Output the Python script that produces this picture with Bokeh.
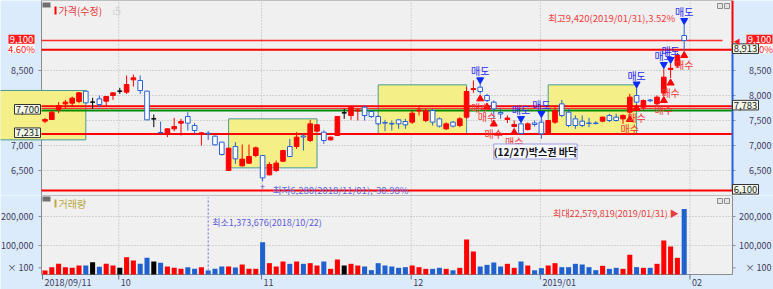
import numpy as np
from bokeh.plotting import figure
from bokeh.layouts import column
from bokeh.models import ColumnDataSource, Range1d, Label
from bokeh.core.properties import value
from bokeh.embed import file_html
from bokeh.resources import INLINE

FONT = "Noto Sans CJK KR"
RED = "#ff0000"
BLUE = "#2a62d4"
BLACK = "#000000"
BG = "#dcebfb"
PANEL = "#f0f0f0"
AXTXT = "#3c3c5c"
GRID = "#b4b4b4"

# ---------------- data ----------------
opens = [7487, 7520, 7713, 7833, 7847, 7880, 8087, 7867, 7933, 7887,
         8000, 8087, 8067, 8313, 8300, 8087, 7533, 7260, 7233, 7333,
         7447, 7580, 7400, 7240, 7247, 7187, 7067, 6500, 6980, 6593,
         6647, 6800, 6800, 6413, 6500, 6687, 6980, 6980, 7190, 7100,
         7287, 7267, 7113, 7200, 7653, 7600, 7690, 7767, 7680, 7580,
         7460, 7440, 7513, 7480, 7467, 7690, 7500, 7700, 7533, 7333,
         7467, 7400, 7567, 8120, 8167, 8000, 7867, 7660, 7520, 7380,
         7433, 7320, 7450, 7467, 7233, 7467, 7833, 7667, 7533, 7487,
         7450, 7450, 7487, 7600, 7567, 7533, 7667, 8000, 7767, 7910,
         7833, 8050, 8520, 8600, 9200]
highs = [7553, 7680, 7867, 7913, 7980, 8067, 8100, 7953, 8000, 7990,
         8060, 8153, 8400, 8420, 8400, 8093, 7620, 7480, 7340, 7553,
         7533, 7667, 7447, 7267, 7287, 7200, 7067, 6950, 7067, 7020,
         7020, 6980, 6810, 6667, 6700, 6913, 7133, 7267, 7233, 7513,
         7420, 7300, 7180, 7590, 7733, 7800, 7733, 7800, 7713, 7600,
         7513, 7500, 7533, 7533, 7700, 7767, 7733, 7733, 7560, 7460,
         7490, 7567, 8167, 8300, 8233, 8033, 7900, 7733, 7600, 7500,
         7460, 7460, 7500, 7560, 7510, 7767, 7913, 7733, 7600, 7600,
         7553, 7487, 7580, 7633, 7633, 7620, 8033, 8150, 7920, 7933,
         8000, 8540, 8640, 8850, 9420]
lows = [7447, 7510, 7647, 7733, 7767, 7847, 7840, 7733, 7767, 7767,
        7913, 8033, 8033, 8180, 8033, 7507, 7367, 7247, 7167, 7287,
        7200, 7300, 7233, 7000, 7113, 7000, 6800, 6490, 6633, 6580,
        6633, 6767, 6280, 6400, 6467, 6667, 6767, 6933, 6900, 7067,
        7280, 7033, 7100, 7190, 7533, 7513, 7500, 7500, 7553, 7413,
        7287, 7300, 7333, 7333, 7433, 7600, 7467, 7400, 7360, 7310,
        7360, 7367, 7533, 8053, 8033, 7867, 7530, 7533, 7450, 7360,
        7220, 7300, 7380, 7133, 7220, 7433, 7567, 7367, 7333, 7367,
        7367, 7420, 7467, 7467, 7480, 7433, 7620, 7840, 7700, 7867,
        7800, 8000, 8350, 8550, 8900]
closes = [7520, 7667, 7800, 7867, 7947, 8053, 7853, 7867, 7820, 7980,
          8053, 8087, 8220, 8353, 8100, 7513, 7533, 7253, 7333, 7380,
          7480, 7447, 7300, 7253, 7233, 7013, 6820, 6947, 6733, 6727,
          6780, 6953, 6353, 6620, 6647, 6900, 6780, 7167, 7170, 7433,
          7413, 7100, 7167, 7580, 7653, 7767, 7710, 7600, 7580, 7433,
          7447, 7430, 7433, 7413, 7647, 7710, 7700, 7467, 7387, 7433,
          7387, 7533, 8080, 8140, 8080, 7900, 7733, 7630, 7550, 7420,
          7240, 7433, 7420, 7233, 7500, 7700, 7600, 7400, 7400, 7400,
          7440, 7440, 7567, 7500, 7500, 7600, 7967, 7867, 7900, 7895,
          7967, 8367, 8545, 8800, 9100]
# volume in units of 100 shares
volume_x100 = [13800, 25300, 36800, 25300, 23000, 31000, 31000, 42500, 26400, 36800,
               31000, 23000, 59800, 48300, 36800, 57500, 44800, 40200, 27600, 23000,
               19500, 25300, 19500, 25300, 13736.76, 19500, 27600, 27600, 24100, 34500,
               19500, 19500, 111500, 39100, 27600, 44800, 36800, 44800, 36800, 39100,
               31000, 44800, 19500, 51700, 31000, 36800, 31000, 27600, 15000, 39100,
               31000, 27600, 23000, 25300, 31000, 25300, 19500, 19500, 23000, 19500,
               14500, 23000, 120700, 79300, 27600, 33300, 41400, 27600, 36800, 23000,
               44800, 31000, 14500, 21800, 31000, 39100, 25300, 25300, 36800, 34500,
               25300, 15000, 29900, 19500, 23000, 19500, 67800, 25300, 23000, 23000,
               36800, 117200, 96600, 57500, 225798.19]

price_ticks = [6500, 7000, 7500, 8000, 8500]
price_tick_labels = ["6,500", "7,000", "7,500", "8,000", "8,500"]
vol_ticks = [23000, 100000, 200000]
vol_tick_labels = ["× 100", "100,000", "200,000"]
vol_grid = [100000, 200000]
month_idx = [0, 11, 32, 54, 73, 95]
month_labels = ["2018/09/11", "10", "11", "12", "2019/01", "02"]

box_from = [-7, 27, 49, 74]
box_to = [6, 40, 62, 87]
box_top = [8100, 7533, 8213, 8213]
box_bottom = [7113, 6553, 7227, 7233]

level_price = [9100, 8913, 7783, 7740, 7700, 7231, 6100]
level_color = ["#ff2a2a", RED, RED, "#ff3030", "#008a00", RED, RED]
level_width = [1.5, 2, 2, 1, 2, 2, 2]

sell_idx = [64, 70, 73, 87, 91, 92, 94]
buy_idx = [64, 65, 66, 69, 86, 87, 91, 92, 94]

# price scale tags: (price, text, style, anchor px, side of anchor)
tags = [(9100, "9,100", "cur", 34, "right"), (8913, "4.60%", "pct", 34, "right"),
        (7700, "7,700", "box", 40, "right"), (7231, "7,231", "box", 40, "right"),
        (8913, "4.60%", "pct", 772, "right"), (8913, "8,913", "box", 732, "left"),
        (9100, "9,100", "cur", 772, "right"), (7783, "7,783", "box", 732, "left"),
        (6100, "6,100", "box", 732, "left")]

txt_high = "최고9,420(2019/01/31),3.52%"
txt_low = "최저6,280(2018/11/01),-30.98%"
txt_vmax = "최대22,579,819(2019/01/31) ▶"
txt_vmin = "최소1,373,676(2018/10/22)"
txt_box = "(12/27)박스권 바닥"
box_note_idx = 71

# ---------------- layout helpers ----------------
STEP = 6.8                      # px per trading day
X0 = -3.5 / STEP                # left edge of chart panel (px 41)
X1 = X0 + (732 - 41) / STEP     # right edge of chart panel (px 732)
P_LO, P_HI = 6000, 9900
PH = 195
PX = (P_HI - P_LO) / PH         # price per px
VH = 79
VMAX = VH * 100000 / 29
VPX = VMAX / VH                 # volume per px


def xd(px):
    return X0 + (px - 41) / STEP


def yp(py):
    return P_HI - py * PX


def yv(py):
    return VMAX - (py - PH) * VPX


o = np.array(opens, float)
hi = np.array(highs, float)
lo = np.array(lows, float)
c = np.array(closes, float)
v = np.array(volume_x100, float)
n = len(o)
xs = np.arange(n)
kind = np.sign(c - o)
col = [RED if k > 0 else (BLUE if k < 0 else BLACK) for k in kind]
fill = [RED if k > 0 else ("#ffffff" if k < 0 else BLACK) for k in kind]
vcol = [RED if k > 0 else ("#1f62cf" if k < 0 else BLACK) for k in kind]

xr = Range1d(xd(0), xd(773))


def make_fig(h, yr):
    f = figure(width=773, height=h, x_range=xr, y_range=yr, title=None,
               output_backend="svg", toolbar_location=None,
               x_axis_location=None, y_axis_location=None, min_border=0,
               background_fill_color=BG, border_fill_color=BG,
               outline_line_color=None)
    f.grid.visible = False
    return f


def txt(p, x, y, texts, color, size="9px", align="left", xoff=0, bold=False):
    p.text(x, y, text=texts, x_offset=xoff, text_align=align, text_baseline="middle",
           text_font=value(FONT), text_font_size=size, text_color=color,
           text_font_style="bold" if bold else "normal")


def yaxes(p, ticks, labels):
    k = len(ticks)
    txt(p, [X0] * k, ticks, labels, AXTXT, align="right", xoff=-8)
    txt(p, [X1] * k, ticks, labels, AXTXT, align="right", xoff=39)
    p.segment(x0=[X0 - 3 / STEP] * k, x1=[X0] * k, y0=ticks, y1=ticks,
              line_color="#8a8aa0")
    p.segment(x0=[X1] * k, x1=[X1 + 3 / STEP] * k, y0=ticks, y1=ticks,
              line_color="#8a8aa0")


grid_x = [m - 0.15 for m in month_idx[1:]]


def grids(p, ylo, yhi, yticks):
    p.segment(x0=grid_x, x1=grid_x, y0=[ylo] * len(grid_x), y1=[yhi] * len(grid_x),
              line_color=GRID, line_dash="1 2")
    p.segment(x0=[X0] * len(yticks), x1=[X1] * len(yticks), y0=yticks, y1=yticks,
              line_color=GRID, line_dash="1 2")


def tag(p, y, text, style, edge, side):
    w = 26
    yc = y + 1.2 * PX            # box sits one pixel above its line
    if side == "right":
        xl, xrr = xd(edge - w), xd(edge)
    else:
        xl, xrr = xd(edge), xd(edge + w)
    if style == "cur":
        fc, lc, tc, hh = "#ff1a1a", None, "#ffffff", 4.5
    elif style == "pct":
        fc, lc, tc, hh = "#ffffff", None, "#ff2020", 4.5
    else:
        fc, lc, tc, hh = "#f2f9ea", "#333333", "#222222", 4.8
    p.quad(left=[xl], right=[xrr], top=[yc + hh * PX], bottom=[yc - hh * PX],
           fill_color=fc, line_color=lc, line_width=1)
    txt(p, [(xl + xrr) / 2], [yc], [text], tc, size="9.5px", align="center")


# ---------------- price panel ----------------
p1 = make_fig(PH, Range1d(P_LO, P_HI))
p1.quad(left=[X0], right=[X1], top=[P_HI], bottom=[P_LO], fill_color=PANEL,
        line_color="#8c8c8c", line_width=1)
grids(p1, P_LO, P_HI, price_ticks)
yaxes(p1, price_ticks, price_tick_labels)

# box ranges
p1.quad(left=box_from, right=box_to, top=box_top, bottom=box_bottom,
        fill_color="#f4ef86", line_color="#4a9a9a", line_width=1)

# level lines
lvl_x1 = [xd(722)] + [X1] * (len(level_price) - 1)
p1.segment(x0=[X0] * len(level_price), x1=lvl_x1, y0=level_price, y1=level_price,
           line_color=level_color, line_width=level_width)

# candles
src = ColumnDataSource(dict(x=xs, top=np.maximum(o, c), bot=np.minimum(o, c),
                            hi=hi, lo=lo, col=col, fill=fill))
p1.segment(x0="x", y0="lo", x1="x", y1="hi", line_color="col", line_width=1, source=src)
p1.vbar(x="x", width=0.68, top="top", bottom="bot", fill_color="fill",
        line_color="col", line_width=1, source=src)

# right-edge coloured bar of the price scale
p1.segment(x0=[X1, X1], x1=[X1, X1], y0=[level_price[1], level_price[-1]],
           y1=[P_HI, level_price[1]], line_color=[RED, "#2a62d4"], line_width=2)

# signals
s = np.array(sell_idx)
b = np.array(buy_idx)
p1.scatter(s, hi[s] + 4 * PX, marker="inverted_triangle", size=7,
           fill_color="#0a2cff", line_color="#0a2cff")
txt(p1, s, hi[s] + 13 * PX, ["매도"] * len(s), "#2a2af0", size="10px", align="center")
p1.scatter(b, lo[b] - 5 * PX, marker="triangle", size=7, fill_color=RED, line_color=RED)
txt(p1, b, lo[b] - 14 * PX, ["매수"] * len(b), "#f03a3a", size="10px", align="center")

# high / low annotations
ih = int(np.argmax(hi))
il = int(np.argmin(lo))
txt(p1, [ih - 1.3], [hi[ih] + 7 * PX], [txt_high], "#f04040", size="9.5px", align="right")
txt(p1, [il], [lo[il] - 5 * PX], ["+"], "#4a5ad8", size="9px", align="center")
txt(p1, [il + 1.5], [lo[il] - 8 * PX], [txt_low], "#5c6be0", size="9.5px")

p1.add_layout(Label(x=box_note_idx - 5, y=yp(151), text=txt_box, text_color="#111111",
                    text_font=FONT, text_font_size="10px", text_font_style="bold",
                    text_baseline="middle", text_align="left",
                    background_fill_color="#f8f8ff", border_line_color="#9c9ce6"))

# legend / header decorations
p1.quad(left=[xd(42)], right=[xd(50)], top=[yp(2)], bottom=[yp(7)],
        fill_color="#707070", line_color=None)
p1.quad(left=[xd(54)], right=[xd(56)], top=[yp(6)], bottom=[yp(14)],
        fill_color=RED, line_color=None)
txt(p1, [xd(58)], [yp(10)], ["가격(수정)"], "#e83c3c", size="10px")
txt(p1, [xd(112)], [yp(10)], ["ı5"], "#cfcfcf", size="10px")
p1.quad(left=[xd(717), xd(724)], right=[xd(722), xd(729)], top=[yp(3)] * 2,
        bottom=[yp(8)] * 2, fill_color="#e4e4e4", line_color="#8c8c8c")

for y, t, st, edge, side in tags:
    tag(p1, y, t, st, edge, side)
txt(p1, [X1], [level_price[0]], ["◀"], "#ff1a1a", size="7px", xoff=1)

# ---------------- volume panel ----------------
p2 = make_fig(VH + 15, Range1d(yv(289), VMAX))
p2.quad(left=[X0], right=[X1], top=[VMAX], bottom=[0], fill_color=PANEL,
        line_color="#8c8c8c", line_width=1)
grids(p2, 0, VMAX, vol_grid)
yaxes(p2, vol_ticks, vol_tick_labels)

vsrc = ColumnDataSource(dict(x=xs, v=v, col=vcol))
p2.vbar(x="x", width=0.74, top="v", bottom=0, fill_color="col", line_color=None, source=vsrc)

iv_min = int(np.argmin(v))
iv_max = int(np.argmax(v))
p2.segment(x0=[iv_min], x1=[iv_min], y0=[0], y1=[yv(197)], line_color="#6a6ae6",
           line_dash="2 2", line_width=1)
txt(p2, [iv_min + 0.6], [yv(222)], [txt_vmin], "#5a5adc")
txt(p2, [iv_max - 0.8], [yv(213)], [txt_vmax], "#e83c3c", align="right")

p2.quad(left=[xd(42)], right=[xd(50)], top=[yv(196)], bottom=[yv(201)],
        fill_color="#707070", line_color=None)
p2.quad(left=[xd(54)], right=[xd(56)], top=[yv(199)], bottom=[yv(207)],
        fill_color="#c0a840", line_color=None)
txt(p2, [xd(58)], [yv(203)], ["거래량"], "#b9a642", size="10px")
p2.quad(left=[xd(717), xd(724)], right=[xd(722), xd(729)], top=[yv(198)] * 2,
        bottom=[yv(203)] * 2, fill_color="#e4e4e4", line_color="#8c8c8c")

# time axis
tick_x = [X0 + 0.15] + grid_x
p2.segment(x0=tick_x, x1=tick_x, y0=[0] * len(tick_x), y1=[-5 * VPX] * len(tick_x),
           line_color="#6a6a80")
txt(p2, tick_x, [yv(282)] * len(tick_x), month_labels, AXTXT, xoff=2)

layout = column(p1, p2, spacing=0)
open("out.html", "w").write(file_html(layout, INLINE))
